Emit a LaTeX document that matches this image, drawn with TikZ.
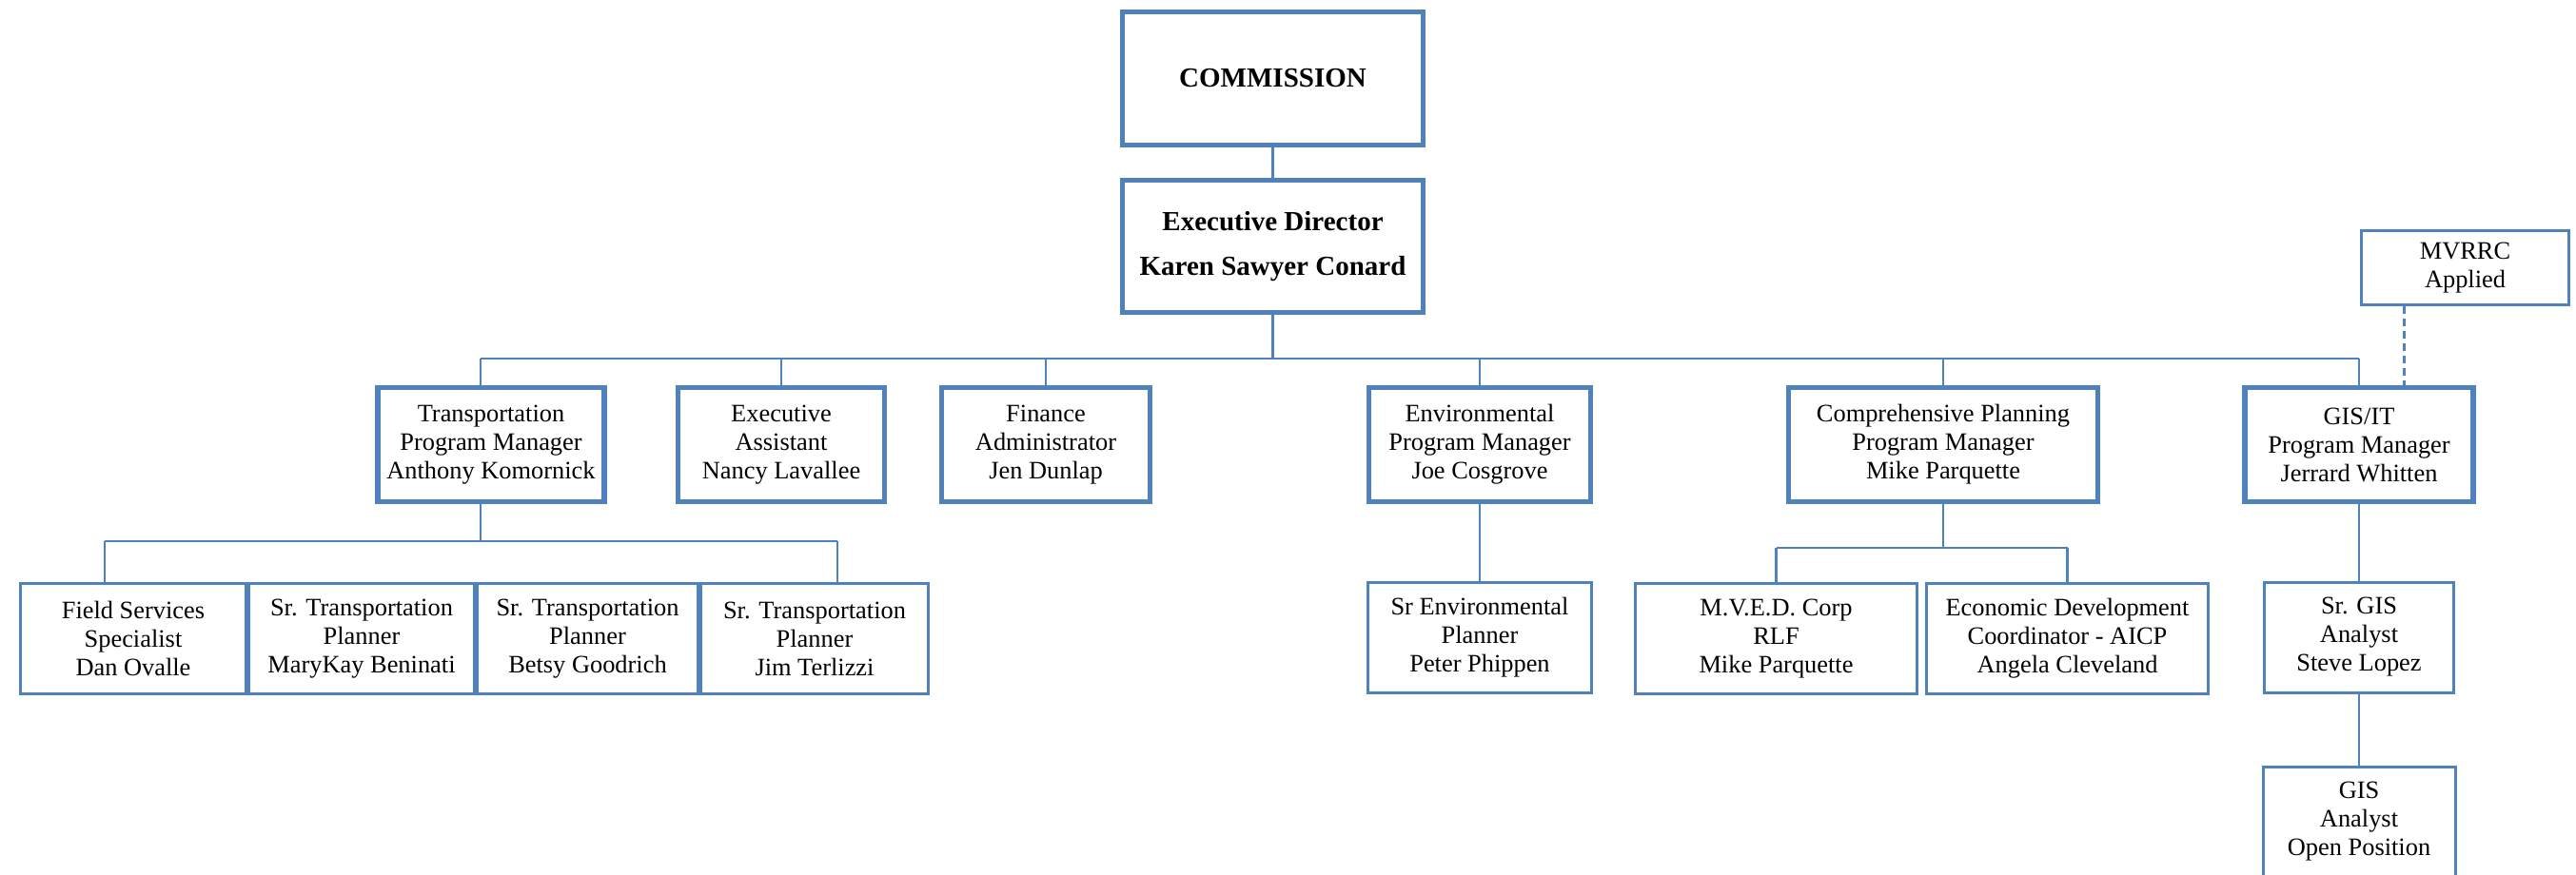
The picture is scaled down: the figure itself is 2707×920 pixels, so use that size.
\documentclass[tikz,border=0pt]{standalone}
\usepackage{fontspec}
\setmainfont{Liberation Serif}
\usetikzlibrary{positioning, calc}
\definecolor{orgblue}{HTML}{4F81BD}
\tikzset{
    headbox/.style={rectangle, draw=orgblue, line width=2.5pt, fill=white, align=center, inner sep=0pt, minimum width=158pt, minimum height=70pt, font=\fontsize{14.5}{23.5}\selectfont\bfseries},
    manager/.style={rectangle, draw=orgblue, line width=2.6pt, fill=white, align=center, inner sep=0pt, minimum height=60pt, font=\fontsize{13.2}{15}\selectfont},
    staff/.style={rectangle, draw=orgblue, line width=1.5pt, fill=white, align=center, inner sep=0pt, minimum height=58pt, font=\fontsize{13.2}{15}\selectfont},
    link/.style={draw=orgblue, line width=1.2pt}
}
\begin{document}
\begin{tikzpicture}[x=0.5pt, y=-0.5pt]
    \useasboundingbox (0,0) rectangle (2707,920);

    % bus lines
    \coordinate (mainbus) at (0,377);
    \coordinate (transbus) at (0,569);
    \coordinate (compbus) at (0,576);

    % COMMISSION and Director
    \node (comm) [headbox] at (1337.5,82.5) {COMMISSION};
    \node (exec) [headbox, minimum height=69.5pt] at (1337.5,259) {Executive Director\\Karen Sawyer Conard};

    % Program managers
    \node (transport) [manager, minimum width=119pt] at (516,467.5) {Transportation\\Program Manager\\Anthony Komornick};
    \node (execasst) [manager, minimum width=108.5pt] at (821,467.5) {Executive\\Assistant\\Nancy Lavallee};
    \node (finance) [manager, minimum width=109.5pt] at (1099,467.5) {Finance\\Administrator\\Jen Dunlap};
    \node (env) [manager, minimum width=116.5pt] at (1555,467.5) {Environmental\\Program Manager\\Joe Cosgrove};
    \node (comp) [manager, minimum width=162.5pt] at (2042,467.5) {Comprehensive Planning\\Program Manager\\Mike Parquette};
    \node (gisit) [manager, minimum width=120pt] at (2479,467.5) {GIS/IT\\Program Manager\\Jerrard Whitten};

    % MVRRC
    \node (mvrrc) [staff, minimum width=109pt, minimum height=39pt] at (2590.5,281.5) {MVRRC\\Applied};

    % Transportation staff
    \node (field) [staff, minimum width=118.5pt] at (140,671.5) {Field Services\\Specialist\\Dan Ovalle};
    \node (marykay) [staff, minimum width=118.5pt] at (380,671.5) {Sr. Transportation\\Planner\\MaryKay Beninati};
    \node (betsy) [staff, minimum width=116pt] at (617.5,671.5) {Sr. Transportation\\Planner\\Betsy Goodrich};
    \node (jim) [staff, minimum width=119.5pt] at (856,671.5) {Sr. Transportation\\Planner\\Jim Terlizzi};

    % Environmental staff
    \node (peter) [staff, minimum width=117.5pt] at (1555,670) {Sr Environmental\\Planner\\Peter Phippen};

    % Comprehensive planning staff
    \node (mved) [staff, minimum width=148pt] at (1866.5,671.5) {M.V.E.D. Corp\\RLF\\Mike Parquette};
    \node (econ) [staff, minimum width=148pt] at (2172.5,671.5) {Economic Development\\Coordinator - AICP\\Angela Cleveland};

    % GIS staff
    \node (srgis) [staff, minimum width=99.5pt] at (2479,670) {Sr. GIS\\Analyst\\Steve Lopez};
    \node (gisan) [staff, minimum width=101pt] at (2479,864) {GIS\\Analyst\\Open Position};

    % Relationships
    \draw [link] (comm) -- (exec);
    \draw [link] (exec.south) -- (exec.south |- mainbus);
    \draw [link] ([xshift=-5.5pt]transport.north |- mainbus) -- (gisit.north |- mainbus);
    \draw [link] ([xshift=-5.5pt]transport.north) -- ([xshift=-5.5pt]transport.north |- mainbus);
    \draw [link] (execasst.north) -- (execasst.north |- mainbus);
    \draw [link] (finance.north) -- (finance.north |- mainbus);
    \draw [link] (env.north) -- (env.north |- mainbus);
    \draw [link] (comp.north) -- (comp.north |- mainbus);
    \draw [link] (gisit.north) -- (gisit.north |- mainbus);
    \draw [link, dashed, dash pattern=on 4pt off 2.5pt] ([xshift=-32pt]mvrrc.south) -- ([xshift=-32pt]mvrrc.south |- gisit.north);

    \draw [link] ([xshift=-5.5pt]transport.south) -- ([xshift=-5.5pt]transport.south |- transbus);
    \draw [link] ([xshift=-15pt]field.north |- transbus) -- ([xshift=12pt]jim.north |- transbus);
    \draw [link] ([xshift=-15pt]field.north |- transbus) -- ([xshift=-15pt]field.north);
    \draw [link] ([xshift=12pt]jim.north |- transbus) -- ([xshift=12pt]jim.north);

    \draw [link] (env) -- (peter);

    \draw [link] (comp.south) -- (comp.south |- compbus);
    \draw [link] (mved.north |- compbus) -- (econ.north |- compbus);
    \draw [link] (mved.north |- compbus) -- (mved.north);
    \draw [link] (econ.north |- compbus) -- (econ.north);

    \draw [link] (gisit) -- (srgis);
    \draw [link] (srgis) -- (gisan);

\end{tikzpicture}
\end{document}
